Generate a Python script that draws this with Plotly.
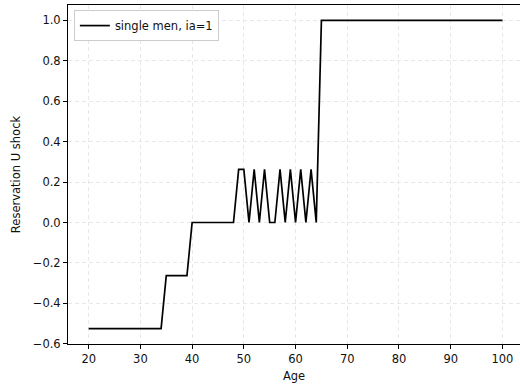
import plotly.graph_objects as go

ages = list(range(20, 101))
shock_early = [-0.525] * 15          # ages 20-34
shock_35 = [-0.263] * 5              # ages 35-39
shock_40 = [0.0] * 9                 # ages 40-48
shock_49_64 = [0.263, 0.263, 0.0, 0.263, 0.0, 0.263, 0.0, 0.0,
               0.263, 0.0, 0.263, 0.0, 0.263, 0.0, 0.263, 0.0]  # ages 49-64
shock_late = [1.0] * 36              # ages 65-100
values = shock_early + shock_35 + shock_40 + shock_49_64 + shock_late

x_ticks = [20, 30, 40, 50, 60, 70, 80, 90, 100]
y_ticks = [-0.6, -0.4, -0.2, 0.0, 0.2, 0.4, 0.6, 0.8, 1.0]
y_tick_labels = ["\u22120.6", "\u22120.4", "\u22120.2", "0.0", "0.2", "0.4", "0.6", "0.8", "1.0"]

font = "DejaVu Sans"
fs = 11.5

fig = go.Figure()
fig.add_trace(go.Scatter(
    x=ages, y=values, mode="lines", name="single men, ia=1",
    line=dict(color="black", width=1.7),
))

fig.update_layout(
    width=520, height=389,
    margin=dict(l=68, r=0, t=5, b=45),
    paper_bgcolor="white", plot_bgcolor="white",
    font=dict(family=font, size=fs, color="#111"),
    showlegend=True,
    legend=dict(
        x=0.013, y=0.985, xanchor="left", yanchor="top",
        bgcolor="rgba(255,255,255,0.9)", bordercolor="#cccccc", borderwidth=1,
        font=dict(family=font, size=fs, color="#111"),
        itemwidth=30,
    ),
    xaxis=dict(
        range=[16, 103.4], tickvals=x_ticks, automargin=False,
        showline=True, linecolor="black", linewidth=1, mirror=True,
        ticks="outside", ticklen=4, tickcolor="black", tickwidth=1,
        showgrid=True, gridcolor="#e8e8e8", griddash="4px,3px", gridwidth=0.8,
        zeroline=False,
        title=dict(text="Age", font=dict(family=font, size=fs), standoff=7),
    ),
    yaxis=dict(
        range=[-0.601, 1.076], tickvals=y_ticks, ticktext=y_tick_labels, automargin=False,
        showline=True, linecolor="black", linewidth=1, mirror=False,
        ticks="outside", ticklen=4, tickcolor="black", tickwidth=1,
        showgrid=True, gridcolor="#e8e8e8", griddash="4px,3px", gridwidth=0.8,
        zeroline=False,
        title=dict(text="Reservation U shock", font=dict(family=font, size=fs), standoff=9),
    ),
)

fig.write_html("out.html", config={"displayModeBar": False},
               post_script="document.body.style.margin='0';")
